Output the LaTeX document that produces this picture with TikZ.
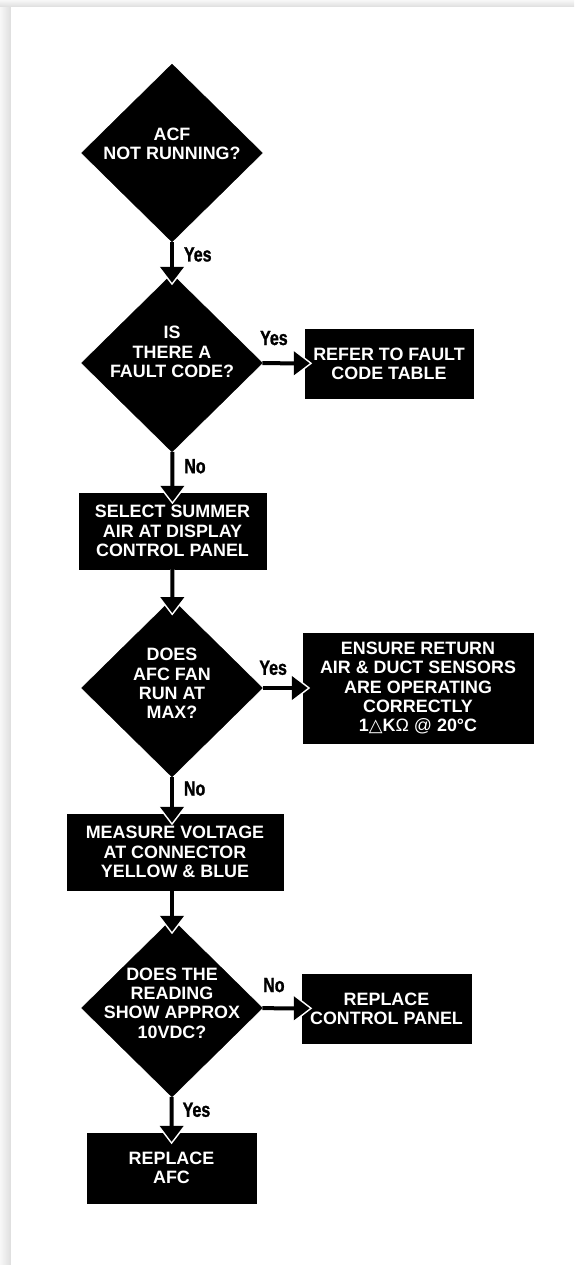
\documentclass[tikz,border=0pt]{standalone}
\usepackage{fontspec}
\setmainfont{Liberation Sans}
\newfontfamily\condfont{Liberation Sans}[FakeStretch=0.78,FakeBold=1.2]
\newfontfamily\symbfont{DejaVu Sans}
\usetikzlibrary{shapes.geometric,arrows.meta}

\tikzset{
  decision/.style={draw, diamond, fill=black, inner sep=0pt, minimum width=181pt, minimum height=178pt},
  dtext/.style={text=white, align=center, font=\bfseries\fontsize{17.9pt}{19.3pt}\selectfont},
  block/.style={draw, rectangle, fill=black, text=white, inner sep=0pt, align=center, font=\bfseries\fontsize{17.9pt}{19.3pt}\selectfont},
  arr/.style={line width=4pt, -{Triangle[width=23pt,length=16pt]}, shorten >=#1,
    preaction={draw=white, line width=4pt, -{Triangle[width=28pt,length=19pt]}, shorten >=#1-2.5pt}},
  arr/.default=-9pt,
  lab/.style={inner sep=0pt, font=\condfont\bfseries\fontsize{20.5pt}{20.5pt}\selectfont}
}

\begin{document}
\begin{tikzpicture}[x=1pt,y=-1pt]
	\useasboundingbox (0,0) rectangle (574,1265);
	% page and shadow
	\fill[gray!20] (0,0) rectangle (574,1265);
	\shade[left color=gray!6, right color=gray!26] (0,7) rectangle (11,1265);
	\shade[top color=gray!6, bottom color=gray!26] (0,0) rectangle (574,7);
	\fill[white] (11,7) rectangle (574,1265);

	\node	(d1) at (172,153) [decision, label={[dtext,yshift=9pt]center:{ACF\\NOT RUNNING?}}] {};
	\node	(d2) at (172,363) [decision, label={[dtext,yshift=11pt]center:{IS\\THERE A\\FAULT CODE?}}] {};
	\node	(b1) at (389,363.5) [block, minimum width=168pt, minimum height=69pt] {REFER TO FAULT\\CODE TABLE};
	\node	(b2) at (172.5,531) [block, minimum width=187pt, minimum height=76pt] {SELECT SUMMER\\AIR AT DISPLAY\\CONTROL PANEL};
	\node	(d3) at (172,688) [decision, label={[dtext,yshift=4.5pt]center:{DOES\\AFC FAN\\RUN AT\\MAX?}}] {};
	\node	(b3) at (418,688) [block, minimum width=230pt, minimum height=110pt] {ENSURE RETURN\\AIR \& DUCT SENSORS\\ARE OPERATING\\CORRECTLY\\1{\mdseries\symbfont △}K{\mdseries Ω} {\mdseries @} 20°C};
	\node	(b4) at (175,852) [block, minimum width=216pt, minimum height=76pt] {MEASURE VOLTAGE\\AT CONNECTOR\\YELLOW \& BLUE};
	\node	(d4) at (172,1008) [decision, label={[dtext,yshift=5pt]center:{DOES THE\\READING\\SHOW APPROX\\10VDC?}}] {};
	\node	(b5) at (386.5,1008.5) [block, minimum width=169pt, minimum height=69pt] {REPLACE\\CONTROL PANEL};
	\node	(b6) at (171.5,1168) [block, minimum width=169pt, minimum height=70pt] {REPLACE\\AFC};

	\draw[arr] (d1) -- node[lab, anchor=west, xshift=10pt, pos=0.39] {Yes} (d2);
	\draw[arr=-5pt] (d2) -- node[lab, anchor=south, yshift=16pt, pos=0.27] {Yes} (b1);
	\draw[arr] (d2) -- node[lab, anchor=west, xshift=10pt, pos=0.35] {No} (b2);
	\draw[arr=-14pt] (b2) -- (d3);
	\draw[arr=-5pt] (d3) -- node[lab, anchor=south, yshift=11pt, pos=0.26] {Yes} (b3);
	\draw[arr] (d3) -- node[lab, anchor=west, xshift=10pt, pos=0.31] {No} (d3 |- b4.north);
	\draw[arr=-13pt] (b4.south -| d3) -- (d4);
	\draw[arr=-8pt] (d4) -- node[lab, anchor=south, yshift=14pt, pos=0.29] {No} (b5);
	\draw[arr] (d4) -- node[lab, anchor=west, xshift=9pt, pos=0.36] {Yes} (b6);
\end{tikzpicture}
\end{document}
